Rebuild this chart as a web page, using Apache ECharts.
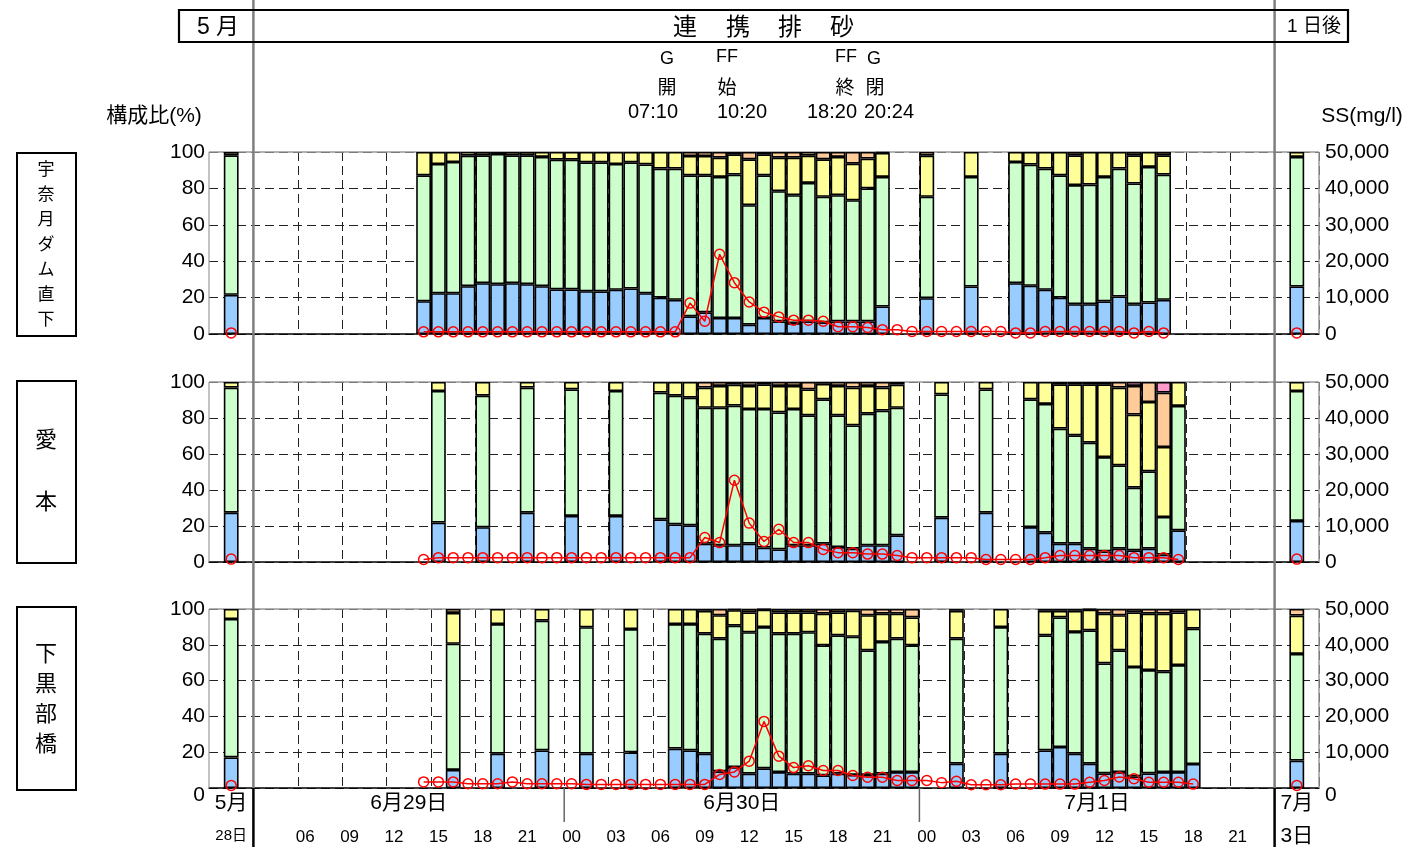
<!DOCTYPE html>
<html>
<head>
<meta charset="utf-8">
<script src="https://cdn.jsdelivr.net/npm/echarts@6/dist/echarts.min.js"></script>
<style>
html,body{margin:0;padding:0;background:#fff;}
#c{width:1411px;height:847px;}
</style>
</head>
<body>
<div id="c"></div>
<script>
// ---------------- DATA ----------------
// slot index: 0..71 = hours from 6/29 00:00 to 7/1 23:00; slot 1 = 5/28 reference, slot 73 = 7/3 reference
const NSLOT = 75;
const stationNames = ['宇奈月ダム直下', '愛本', '下黒部橋'];

// Station 1: 宇奈月ダム直下 (composition %, bottom to top)
const p1Slots  = [1,14,15,16,17,18,19,20,21,22,23,24,25,26,27,28,29,30,31,32,33,34,35,36,37,38,39,40,41,42,43,44,45,48,51,54,55,56,57,58,59,60,61,62,63,64,73];
const p1Blue   = [21.5,18,22.4,22.4,26.3,27.9,27.4,27.9,27.4,26.3,24.5,24.5,23.5,23.4,24.3,25,22.4,20,18.8,9.7,11.9,8.8,8.8,5.1,8.8,6.9,6,6.9,6.4,6.9,6.9,6.9,15.1,19.7,26.1,27.9,26.5,24.3,20,16.4,16.4,17.9,20.6,16.4,17.3,18.8,26.1];
const p1Green  = [76.7,69.2,71,72.1,71.7,70.3,71.5,70.3,70.8,71,71.3,71.3,70.8,70.9,69.1,69.3,70.8,70.9,72.1,77.5,75.3,77.5,78.8,65.7,78.4,71.6,70.3,76.1,69,69.4,66.6,73.1,71.2,55.7,60.2,66.6,66.6,66.6,67.2,65.4,65.7,68.4,70.3,66.3,74.5,68.8,71.2];
const p1Yellow = [1.8,12.8,6.6,5.5,2,1.8,1.1,1.8,1.8,2.7,4.2,4.2,5.7,5.7,6.6,5.7,6.8,9.1,9.1,10.6,10.6,10.6,11.1,25.2,11.5,18.4,20.6,15,20.6,21,20.1,16.4,13.2,22.6,13.7,5.5,6.9,9.1,12.8,16.4,17.9,13.7,9.1,15.5,8.2,10.6,2.7];
const p1Orange = [0,0,0,0,0,0,0,0,0,0,0,0,0,0,0,0,0,0,0,2.2,2.2,3.1,1.3,4,1.3,3.1,3.1,2,4,2.7,6.4,3.6,0.5,2,0,0,0,0,0,1.8,0,0,0,1.8,0,1.8,0];
const p1Pink   = [];

// Station 2: 愛本
const p2Slots  = [1,15,18,21,24,27,30,31,32,33,34,35,36,37,38,39,40,41,42,43,44,45,46,49,52,55,56,57,58,59,60,61,62,63,64,65,73];
const p2Blue   = [27.4,21.9,19.3,27.4,25.6,25.6,23.7,20.9,20.4,10.2,9.3,9.3,10.2,8,7,9.3,9.3,10.2,8.3,7.4,9.3,9.3,14.8,24.6,27.4,19.4,16.3,10.2,10.2,7.4,5.9,7.4,6.5,7.4,4.1,17.6,22.8];
const p2Green  = [69.5,73.1,73.1,69.5,70.3,69.4,70.4,71.5,70.9,75.5,76.4,77.6,74.8,77,76.1,75.7,72.2,80.2,73.2,68.5,73.1,74.8,70.9,68.5,68.5,71,71.5,63.9,60.2,58.9,52.4,46.3,34.8,43,20.9,69.1,72.2];
const p2Yellow = [3.1,5,7.6,3.1,4.1,5,5.9,7.6,8.7,11.2,12.1,11.6,12.8,13.7,14.7,12.8,14.4,8.6,16.3,21,15.4,12.8,12.8,6.9,4.1,9.6,12.2,24.6,28.3,32.4,40.4,43.2,40.6,38.5,38.9,13.3,5];
const p2Orange = [0,0,0,0,0,0,0,0,0,3.1,2.2,1.5,2.2,1.3,2.2,2.2,4.1,1,2.2,3.1,2.2,3.1,1.5,0,0,0,0,1.3,1.3,1.3,1.3,3.1,15.9,11.1,30.2,0,0];
const p2Pink   = [0,0,0,0,0,0,0,0,0,0,0,0,0,0,0,0,0,0,0,0,0,0,0,0,0,0,0,0,0,0,0,0,2.2,0,5.9,0,0];

// Station 3: 下黒部橋
const p3Slots  = [1,16,19,22,25,28,31,32,33,34,35,36,37,38,39,40,41,42,43,44,45,46,47,50,53,56,57,58,59,60,61,62,63,64,65,66,73];
const p3Blue   = [17.1,10.1,19.2,21,19.2,19.9,22,21,19.2,9.3,11.7,8,11,8.9,8,8,7.1,8,7.3,7.3,8,8.9,8.9,13.6,19.2,21,22.9,19.2,13.6,8.2,8.9,6.5,8.2,8.9,8.9,13.4,15.3];
const p3Green  = [77.3,70.5,72.4,72.5,70.6,68.9,69.6,70.6,67,74.1,79,79,78.9,77.3,78.2,79,72.6,77.3,77.2,69.6,73.6,74.5,70.8,69.8,70.7,64.3,72.4,68,74.5,61.4,68,61.1,57.7,56.1,59.8,75.6,59.6];
const p3Yellow = [5.6,17.2,8.4,6.5,10.2,11.2,8.4,8.4,12.8,13.1,8.6,11.1,9.7,11.9,11.9,11.1,17.7,12.8,14.6,19.6,15.8,14,15.6,15.6,10.1,13.7,3.7,11.8,11.5,27.8,19.6,30.5,31.5,32.4,29.4,11,21.4];
const p3Orange = [0,2.2,0,0,0,0,0,0,1,3.5,0.7,1.9,0.4,1.9,1.9,1.9,2.6,1.9,0.9,3.5,2.6,2.6,4.7,1,0,1,1,1,0.4,2.6,3.5,1.9,2.6,2.6,1.9,0,3.7];
const p3Pink   = [];

// SS (mg/l): hourly series from start slot, plus reference points (5/28, 7/3)
const ss1Start = 14;
const ss1 = [600,600,600,600,600,600,600,600,600,600,600,600,600,600,600,600,600,600,8500,3500,21900,14100,8800,6000,4700,3800,3800,3500,2000,2000,1800,1200,1200,700,700,700,700,700,700,700,300,300,700,700,700,700,700,700,300,700,300];
const ss1Ref = [300, 300];
const ss2Start = 14;
const ss2 = [700,1200,1200,1200,1200,1200,1200,1200,1200,1200,1200,1200,1200,1200,1200,1200,1200,1200,1200,6800,5400,22700,10800,5700,9100,5400,5400,3500,2600,2600,2200,2200,1800,1200,1200,1200,1200,1200,700,700,700,700,1200,1800,1800,1800,1800,1800,1200,1200,1200,700];
const ss2Ref = [800, 800];
const ss3Start = 14;
const ss3 = [1700,1700,1700,1200,1200,1200,1700,1200,1200,1200,1200,1000,1000,1000,1000,1000,1000,1000,1000,1000,3800,4500,7500,18600,8900,5700,6200,4900,4900,3500,3000,3000,2100,2100,2100,1500,1900,900,900,900,1100,1100,1100,1100,1100,1600,2100,3100,2600,1600,1600,1600,1100];
const ss3Ref = [700, 700];
const refSlots = [1, 73];

// tick labels
const hourTickEvery = 3, firstHourTick = 6, lastHourTick = 69;
const dateLabels = [
  {text:'5月', a:1, b:2, row:0}, {text:'28日', a:1, b:2, row:1, small:true},
  {text:'6月29日', a:3, b:24, row:0}, {text:'6月30日', a:24, b:48, row:0}, {text:'7月1日', a:48, b:72, row:0},
  {text:'7月', a:73, b:74, row:0}, {text:'3日', a:73, b:74, row:1}
];

// ---------------- LAYOUT ----------------
const FONT = "'Liberation Sans', Arial, 'Noto Sans CJK JP', sans-serif";
const GL = 209, GR = 1319;
const SLOT = (GR - GL) / NSLOT;
const panels = [{top:152, h:182}, {top:382, h:180}, {top:609, h:179}];
const COLORS = {blue:'#99CCFF', green:'#CCFFCC', yellow:'#FFFF99', orange:'#FFCC99', pink:'#FF99CC'};

const categories = [];
for (let i = 0; i < NSLOT; i++) categories.push(i < 72 ? String(i % 24).padStart(2, '0') : '');

function place(slots, vals) {
  const a = new Array(NSLOT).fill(null);
  slots.forEach((s, i) => { const v = vals[i]; a[s] = (v == null || v === 0) ? null : v; });
  return a;
}
function placeSS(start, vals, ref) {
  const a = new Array(NSLOT).fill(null);
  vals.forEach((v, i) => { a[start + i] = v; });
  refSlots.forEach((s, i) => { a[s] = ref[i]; });
  return a;
}

const stations = [
  {slots:p1Slots, blue:p1Blue, green:p1Green, yellow:p1Yellow, orange:p1Orange, pink:p1Pink, ss:placeSS(ss1Start, ss1, ss1Ref)},
  {slots:p2Slots, blue:p2Blue, green:p2Green, yellow:p2Yellow, orange:p2Orange, pink:p2Pink, ss:placeSS(ss2Start, ss2, ss2Ref)},
  {slots:p3Slots, blue:p3Blue, green:p3Green, yellow:p3Yellow, orange:p3Orange, pink:p3Pink, ss:placeSS(ss3Start, ss3, ss3Ref)}
];

const grids = [], xAxes = [], yAxes = [], series = [];
const gridLine = {color:'#222', type:[9,5], width:1};

panels.forEach((p, k) => {
  grids.push({left:GL, right:1411 - GR, top:p.top, height:p.h, containLabel:false, outerBoundsMode:'none'});
  const last = k === 2;
  xAxes.push({
    type:'category', gridIndex:k, data:categories, boundaryGap:true,
    axisLine:{show:true, lineStyle:{color:'#000', width:1.5}},
    axisTick:{show:false},
    axisLabel:{show:last, interval:(i) => i % hourTickEvery === 0 && i >= firstHourTick && i <= lastHourTick,
      fontSize:17, color:'#000', fontFamily:FONT, margin:41},
    splitLine:{show:true, interval:(i) => i % hourTickEvery === 0 && i >= firstHourTick && i <= lastHourTick, lineStyle:gridLine}
  });
  const zeroRich = {z:{fontSize:21, fontFamily:FONT, color:'#000', padding:[last ? 14 : 0, 0, 0, 0]}};
  yAxes.push({
    type:'value', gridIndex:k, min:0, max:100, interval:20, position:'left',
    axisLine:{show:false}, axisTick:{show:false},
    axisLabel:{fontSize:21, color:'#000', fontFamily:FONT, margin:4,
      formatter:(v) => v === 0 ? '{z|0}' : String(v), rich:zeroRich},
    splitLine:{show:true, lineStyle:gridLine}
  });
  yAxes.push({
    type:'value', gridIndex:k, min:0, max:50000, interval:10000, position:'right',
    axisLine:{show:false}, axisTick:{show:false},
    axisLabel:{fontSize:21, color:'#000', fontFamily:FONT, margin:6,
      formatter:(v) => v === 0 ? '{z|0}' : v.toLocaleString('en-US'), rich:zeroRich},
    splitLine:{show:false}
  });
  const st = stations[k];
  ['blue','green','yellow','orange','pink'].forEach((key) => {
    if (!st[key].length) return;
    series.push({
      type:'bar', xAxisIndex:k, yAxisIndex:2 * k, stack:'s' + k, barWidth:'100%',
      data:place(st.slots, st[key]),
      itemStyle:{color:COLORS[key], borderColor:'#000', borderWidth:1.6},
      animation:false, silent:true
    });
  });
  series.push({
    type:'line', xAxisIndex:k, yAxisIndex:2 * k + 1, data:st.ss, connectNulls:false,
    symbol:'circle', symbolSize:10, showAllSymbol:true, z:5,
    lineStyle:{color:'#FF0000', width:1.5},
    itemStyle:{color:'rgba(255,255,255,0)', borderColor:'#FF0000', borderWidth:1.5},
    animation:false, silent:true
  });
});

// ---------------- DECORATIONS ----------------
const G = [];
function txt(text, x, y, size, extra) {
  G.push(Object.assign({type:'text', z:20, style:{text:text, x:x, y:y, fill:'#000', font:size + 'px ' + FONT,
    align:'center', verticalAlign:'middle', textAlign:'center', textVerticalAlign:'middle'}}, extra || {}));
}
function line(x1, y1, x2, y2, stroke, w, z, dash) {
  G.push({type:'line', z:z, shape:{x1:x1, y1:y1, x2:x2, y2:y2}, style:{stroke:stroke, lineWidth:w, lineDash:dash || null}});
}
const sx = (i) => GL + i * SLOT;

// panel frames (grey)
panels.forEach((p) => {
  line(GL, p.top, GR, p.top, '#9a9a9a', 1.5, 1);
  line(GL, p.top, GL, p.top + p.h, '#9a9a9a', 1.2, 1);
  line(GR, p.top, GR, p.top + p.h, '#9a9a9a', 1.5, 1);
});

// title box
G.push({type:'rect', z:15, shape:{x:179, y:10, width:1169, height:32}, style:{fill:'none', stroke:'#000', lineWidth:2.2}});
txt('5 月', 218, 28, 23);
[['連',685],['携',738],['排',790],['砂',842]].forEach(([c, x]) => txt(c, x, 28, 24));
txt('1 日後', 1314, 27, 19);

// separators
const b1 = sx(3), b2 = sx(72);
const axisBottom = panels[2].top + panels[2].h;
[b1, b2].forEach((x) => {
  line(x, 0, x, axisBottom, '#7f7f7f', 2.5, 12);
  line(x, axisBottom, x, 847, '#000', 2.5, 12);
});
[24, 48].forEach((i) => line(sx(i), axisBottom, sx(i), axisBottom + 34, '#666', 1.5, 12));

// gate annotations
txt('G', 667, 59, 18); txt('FF', 727, 57, 18); txt('FF', 846, 57, 18); txt('G', 874, 59, 18);
txt('開', 667, 89, 19); txt('始', 727, 89, 19); txt('終', 845, 89, 19); txt('閉', 875, 89, 19);
txt('07:10', 653, 112, 20); txt('10:20', 742, 112, 20); txt('18:20', 832, 112, 20); txt('20:24', 889, 112, 20);

// axis titles
txt('構成比(%)', 154, 116, 21);
txt('SS(mg/l)', 1362, 116, 21);

// station boxes
const boxes = [{y:153, h:183}, {y:381, h:182}, {y:607, h:183}];
boxes.forEach((b) => G.push({type:'rect', z:15, shape:{x:17, y:b.y, width:59, height:b.h}, style:{fill:'none', stroke:'#000', lineWidth:2}}));
[...'宇奈月ダム直下'].forEach((c, i) => txt(c, 46, 170 + i * 25, 17));
txt('愛', 46, 441, 22); txt('本', 46, 503, 22);
[...'下黒部橋'].forEach((c, i) => txt(c, 46, 655 + i * 30, 22));

// date labels
dateLabels.forEach((d) => {
  const x = (sx(d.a) + sx(d.b)) / 2;
  txt(d.text, x, d.row === 0 ? axisBottom + 15 : axisBottom + 48, d.small ? 15 : 21);
});

const chart = echarts.init(document.getElementById('c'), null, {renderer:'canvas'});
chart.setOption({
  backgroundColor:'#fff',
  animation:false,
  textStyle:{fontFamily:FONT},
  grid:grids, xAxis:xAxes, yAxis:yAxes, series:series,
  graphic:{elements:G}
});
</script>
</body>
</html>
